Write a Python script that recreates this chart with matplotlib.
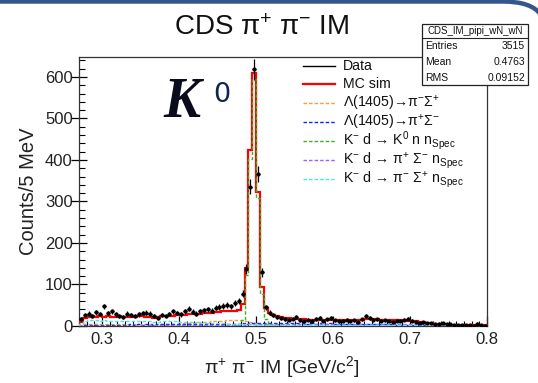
import numpy as np
import matplotlib.pyplot as plt
from matplotlib.lines import Line2D
from matplotlib.patches import Rectangle, PathPatch
from matplotlib.path import Path

plt.rcParams['font.family'] = ['Liberation Sans', 'DejaVu Sans']
plt.rcParams['mathtext.fontset'] = 'custom'
plt.rcParams['mathtext.rm'] = 'Liberation Sans'
plt.rcParams['mathtext.it'] = 'Liberation Sans:italic'
plt.rcParams['mathtext.bf'] = 'Liberation Sans:bold'

# 5 MeV bins from 0.27 to 0.80 GeV/c^2
x_lo, x_hi, n_bins = 0.27, 0.80, 106

data_counts = [
    18, 27, 30, 24, 33, 29, 47, 31, 36, 28,
    25, 22, 30, 26, 24, 28, 31, 32, 30, 25,
    20, 27, 24, 29, 35, 31, 28, 36, 42, 34,
    30, 36, 38, 40, 37, 44, 46, 49, 50, 47,
    55, 60, 78, 138, 336, 618, 367, 129, 45, 32,
    27, 22, 20, 17, 15, 18, 22, 14, 12, 15,
    13, 17, 19, 12, 16, 20, 14, 11, 13, 15,
    12, 14, 10, 16, 24, 19, 15, 16, 13, 14,
    12, 10, 13, 12, 15, 18, 13, 10, 8, 9,
    7, 8, 5, 6, 7, 5, 4, 3, 3, 2,
    3, 2, 1, 6, 2, 1,
]

mc_sim = [
    10, 20, 22, 23, 22, 23, 22, 23, 22, 22,
    23, 21, 22, 22, 22, 23, 23, 22, 21, 20,
    21, 23, 24, 24, 25, 26, 26, 27, 28, 28,
    29, 30, 31, 31, 32, 33, 34, 35, 35, 36,
    37, 38, 52, 140, 424, 610, 324, 93, 44, 31,
    26, 24, 22, 20, 19, 18, 17, 16, 16, 15,
    15, 15, 14, 14, 14, 14, 14, 15, 14, 14,
    15, 14, 14, 15, 17, 17, 16, 16, 15, 15,
    15, 14, 14, 14, 13, 13, 12, 11, 10, 9,
    8, 7, 6, 5, 4, 4, 3, 3, 3, 2,
    2, 2, 2, 2, 2, 2,
]

lam_pim_sigp = [
    2, 4, 4, 5, 4, 5, 4, 5, 4, 4,
    5, 4, 4, 5, 4, 5, 5, 4, 4, 4,
    4, 5, 5, 5, 6, 6, 6, 7, 7, 8,
    8, 9, 9, 10, 11, 12, 13, 13, 14, 14,
    14, 14, 14, 12, 10, 8, 6, 5, 4, 3,
    3, 2, 2, 2, 1, 1, 1, 1, 1, 0,
    0, 0, 0, 0, 0, 0, 0, 0, 0, 0,
    0, 0, 0, 0, 0, 0, 0, 0, 0, 0,
    0, 0, 0, 0, 0, 0, 0, 0, 0, 0,
    0, 0, 0, 0, 0, 0, 0, 0, 0, 0,
    0, 0, 0, 0, 0, 0,
]

lam_pip_sigm = [
    1, 2, 2, 2, 2, 3, 2, 3, 3, 3,
    3, 3, 3, 4, 3, 4, 3, 4, 4, 3,
    4, 4, 4, 4, 5, 4, 5, 5, 5, 5,
    5, 5, 5, 6, 5, 6, 6, 6, 6, 6,
    6, 6, 7, 6, 7, 7, 7, 7, 7, 7,
    7, 7, 7, 7, 7, 7, 7, 7, 7, 6,
    7, 6, 7, 6, 6, 7, 6, 6, 6, 6,
    6, 5, 6, 5, 5, 5, 5, 4, 4, 4,
    4, 4, 3, 3, 3, 3, 2, 2, 2, 2,
    1, 1, 1, 1, 1, 1, 0, 0, 0, 0,
    0, 0, 0, 0, 0, 0,
]

k0_n_n = [
    0, 0, 0, 0, 0, 0, 0, 0, 0, 0,
    0, 0, 0, 0, 0, 0, 0, 0, 0, 0,
    0, 0, 0, 0, 0, 0, 0, 0, 0, 0,
    0, 0, 0, 0, 0, 1, 1, 1, 1, 1,
    2, 4, 14, 122, 402, 596, 308, 78, 18, 6,
    3, 2, 2, 1, 1, 1, 1, 1, 1, 1,
    1, 1, 1, 1, 1, 1, 1, 1, 1, 1,
    1, 1, 1, 1, 1, 1, 1, 1, 1, 1,
    1, 1, 1, 1, 1, 1, 1, 0, 0, 0,
    0, 0, 0, 0, 0, 0, 0, 0, 0, 0,
    0, 0, 0, 0, 0, 0,
]

pip_sigm_n = [
    0, 1, 1, 1, 1, 1, 1, 1, 1, 1,
    1, 1, 1, 1, 1, 1, 2, 1, 2, 2,
    2, 2, 2, 2, 2, 2, 2, 2, 3, 2,
    3, 3, 3, 3, 3, 3, 3, 3, 3, 3,
    3, 3, 3, 3, 4, 4, 4, 4, 4, 4,
    4, 4, 4, 4, 4, 4, 4, 4, 5, 4,
    4, 5, 4, 4, 5, 4, 5, 5, 4, 5,
    5, 5, 4, 5, 5, 5, 5, 5, 5, 5,
    5, 5, 5, 5, 5, 5, 5, 5, 4, 4,
    4, 4, 3, 3, 3, 2, 2, 2, 2, 1,
    1, 1, 1, 1, 1, 1,
]

pim_sigp_n = [
    6, 12, 14, 14, 14, 13, 14, 13, 13, 13,
    13, 12, 13, 12, 13, 12, 12, 12, 11, 10,
    10, 11, 12, 11, 11, 11, 10, 10, 10, 9,
    9, 8, 8, 7, 8, 7, 7, 7, 6, 6,
    6, 6, 5, 5, 4, 4, 3, 3, 3, 3,
    3, 3, 3, 2, 2, 2, 2, 2, 2, 2,
    2, 2, 2, 2, 2, 2, 2, 2, 2, 2,
    2, 2, 2, 2, 2, 2, 2, 2, 2, 2,
    2, 2, 2, 2, 2, 2, 2, 2, 2, 2,
    2, 1, 1, 1, 1, 1, 1, 1, 1, 1,
    1, 1, 1, 1, 1, 1,
]

legend_labels = [
    'Data',
    'MC sim',
    'Λ(1405)→π$^{-}$Σ$^{+}$',
    'Λ(1405)→π$^{+}$Σ$^{-}$',
    'K$^{-}$ d → K$^{0}$ n n$_{\\mathrm{Spec}}$',
    'K$^{-}$ d → π$^{+}$ Σ$^{-}$ n$_{\\mathrm{Spec}}$',
    'K$^{-}$ d → π$^{-}$ Σ$^{+}$ n$_{\\mathrm{Spec}}$',
]
stats_name = 'CDS_IM_pipi_wN_wN'
stats_rows = [('Entries', '3515'), ('Mean', '0.4763'), ('RMS', '0.09152')]

W, H = 538, 383


def fx(px):
    return px / W


def fy(py):
    return 1 - py / H


edges = np.linspace(x_lo, x_hi, n_bins + 1)
centers = 0.5 * (edges[1:] + edges[:-1])
data = np.array(data_counts, dtype=float)

fig = plt.figure(figsize=(W / 100, H / 100), dpi=100)
ax = fig.add_axes([fx(79), fy(326), 408 / W, 269 / H])

# total MC, then the individual channels on top
ax.stairs(mc_sim, edges, color='#ff0000', lw=1.6, zorder=3)
comp_styles = [
    (lam_pim_sigp, '#ff9a30'),
    (lam_pip_sigm, '#1020ff'),
    (k0_n_n, '#40b020'),
    (pip_sigm_n, '#9a60ff'),
    (pim_sigp_n, '#40e8f0'),
]
for vals, col in comp_styles:
    ax.stairs(vals, edges, color=col, lw=1.0, linestyle=(0, (2.5, 1.5)), zorder=4)

ax.errorbar(centers, data, yerr=np.sqrt(data), xerr=0.0025, fmt='o', ms=2.0,
            color='black', ecolor='black', elinewidth=0.9, capsize=0, zorder=5)

ax.set_xlim(x_lo, x_hi)
ax.set_ylim(0, 648)
ax.set_xticks([0.3, 0.4, 0.5, 0.6, 0.7, 0.8])
ax.set_xticklabels(['0.3', '0.4', '0.5', '0.6', '0.7', '0.8'])
ax.set_xticks(np.arange(0.28, 0.80, 0.01), minor=True)
ax.set_yticks(np.arange(0, 700, 100))
ax.set_yticks(np.arange(0, 648, 20), minor=True)
ax.tick_params(axis='y', which='major', direction='inout', length=11, width=0.9,
               labelsize=12, pad=-1, labelcolor='#222222')
ax.tick_params(axis='y', which='minor', direction='in', length=4, width=0.8)
ax.tick_params(axis='x', which='major', direction='in', length=7, width=0.9,
               labelsize=12, pad=4.5, labelcolor='#222222')
ax.tick_params(axis='x', which='minor', direction='in', length=3.5, width=0.8)
for s in ax.spines.values():
    s.set_linewidth(0.9)
    s.set_color('#333333')

fig.text(fx(282), fy(373), 'π$^{+}$ π$^{-}$ IM [GeV/c$^{2}$]',
         ha='center', va='baseline', fontsize=14, color='#222222')
fig.text(fx(29), fy(191), 'Counts/5 MeV', rotation=90, ha='center', va='center',
         fontsize=14.5, color='#222222')

fig.text(fx(262), fy(35), 'CDS π$^{+}$ π$^{-}$ IM', ha='center',
         va='baseline', fontsize=20, color='#111111')

# K0 label
fig.text(fx(163), fy(117), 'K', family='Liberation Serif', weight='bold',
         style='italic', fontsize=40, color='#0b0b1e', va='baseline')
fig.text(fx(213), fy(102), '0', family='DejaVu Sans', fontsize=19.5,
         color='#0d2550', va='baseline')

# legend
leg_styles = [
    ('black', 1.0, '-'),
    ('#ff0000', 1.6, '-'),
    ('#ff9a30', 1.0, (0, (2.5, 1.5))),
    ('#1020ff', 1.0, (0, (2.5, 1.5))),
    ('#40b020', 1.0, (0, (2.5, 1.5))),
    ('#9a60ff', 1.0, (0, (2.5, 1.5))),
    ('#40e8f0', 1.0, (0, (2.5, 1.5))),
]
for i, (lab, (col, lw, ls)) in enumerate(zip(legend_labels, leg_styles)):
    yy = 65.5 + i * 18.9
    fig.add_artist(Line2D([fx(303), fx(335)], [fy(yy), fy(yy)], color=col, lw=lw,
                          linestyle=ls, transform=fig.transFigure))
    fig.text(fx(343), fy(yy + 4), lab, ha='left', va='baseline', fontsize=10.2,
             color='#111111')

# statistics box
fig.add_artist(Rectangle((fx(422), fy(85)), (528 - 422) / W, (85 - 24) / H,
                         facecolor='white', edgecolor='#222222', lw=0.9,
                         transform=fig.transFigure, zorder=10))
fig.add_artist(Line2D([fx(422), fx(528)], [fy(37.5), fy(37.5)], color='#222222',
                      lw=0.8, transform=fig.transFigure, zorder=11))
fig.text(fx(475), fy(31), stats_name, ha='center', va='center', fontsize=7,
         zorder=12, color='#111111')
for i, (k, v) in enumerate(stats_rows):
    yy = 46 + i * 16
    fig.text(fx(425), fy(yy), k, ha='left', va='center', fontsize=7.5, zorder=12,
             color='#111111')
    fig.text(fx(525), fy(yy), v, ha='right', va='center', fontsize=7.5, zorder=12,
             color='#111111')

# slide frame along the top
frame = Path([(fx(0), fy(1.5)), (fx(503), fy(1.5)), (fx(532), fy(1.5)), (fx(541), fy(15))],
             [Path.MOVETO, Path.LINETO, Path.CURVE3, Path.CURVE3])
fig.add_artist(PathPatch(frame, fill=False, lw=3.2, edgecolor='#34568a',
                         transform=fig.transFigure))

fig.savefig('out.png', dpi=100)
